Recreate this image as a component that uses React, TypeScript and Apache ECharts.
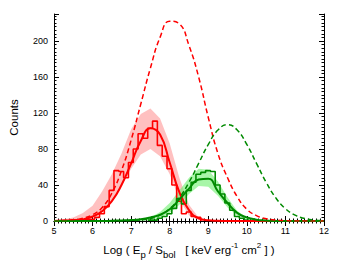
import React, { useEffect, useRef } from "react";
import * as echarts from "echarts";

// Red sample: histogram (left bin edges, counts), bin width 0.125
const redBinEdges = [5.43, 5.555, 5.68, 5.805, 5.93, 6.055, 6.18, 6.305, 6.43, 6.555, 6.68, 6.805, 6.93, 7.055, 7.18, 7.305, 7.43, 7.555, 7.68, 7.805, 7.93, 8.055, 8.18, 8.305, 8.43, 8.555, 8.68, 8.805];
const redCounts = [1, 1, 1, 2, 2, 4, 8, 16, 34, 56, 55, 48, 65, 80, 97, 92, 103, 111, 84, 72, 58, 40, 22, 8, 10, 5, 4, 0];

// Green sample histogram
const greenBinEdges = [7.43, 7.555, 7.68, 7.805, 7.93, 8.055, 8.18, 8.305, 8.43, 8.555, 8.68, 8.805, 8.93, 9.055, 9.18, 9.305, 9.43, 9.555, 9.68, 9.805, 9.93, 10.055];
const greenCounts = [1, 1, 3, 5, 8, 14, 25, 19, 34, 43, 52, 54, 56, 55, 40, 30, 20, 12, 5, 3, 1, 0];

// Fit curves (x, value)
const fitX = [5.0, 5.25, 5.5, 5.75, 6.0, 6.25, 6.5, 6.75, 7.0, 7.25, 7.5, 7.75, 8.0, 8.25, 8.5, 8.75, 9.0, 9.25, 9.5, 9.75, 10.0, 10.25, 10.5, 10.75, 11.0, 11.25, 11.5, 11.75, 12.0];
const redFit = [0, 0.5, 1, 2, 5, 11, 22, 40, 64, 89, 103, 96, 65, 32, 12, 3, 0.8, 0.2, 0, 0, 0, 0, 0, 0, 0, 0, 0, 0, 0];
const redBandUpper = [1, 2, 4, 9, 17, 33, 52, 75, 102, 119, 125, 114, 86, 48, 18, 4, 1, 0, 0, 0, 0, 0, 0, 0, 0, 0, 0, 0, 0];
const redBandLower = [0, 0.3, 1, 2.5, 6, 12, 23, 39, 58, 74, 80, 72, 52, 24, 6, 1, 0, 0, 0, 0, 0, 0, 0, 0, 0, 0, 0, 0, 0];
const redDashed = [0.2, 0.5, 1.2, 3, 7, 15, 31, 56, 90, 130, 170, 204, 222, 219, 195, 160, 115, 75, 48, 27, 13, 6, 2.5, 1, 0.3, 0, 0, 0, 0];

const greenFit = [0, 0, 0, 0, 0, 0, 0.3, 0.6, 1, 2, 4, 7, 13, 24, 36, 46, 47, 33, 20, 9, 4, 1.5, 0.5, 0, 0, 0, 0, 0, 0];
const greenBandUpper = [0, 0, 0, 0, 0, 0, 0.2, 0.4, 0.5, 1.5, 4, 10, 20, 34, 48, 58, 57, 44, 26, 11, 4, 1, 0, 0, 0, 0, 0, 0, 0];
const greenBandLower = [0, 0, 0, 0, 0, 0, 0, 0, 0, 0.3, 1.5, 4, 9, 18, 30, 39, 38, 28, 15, 6, 2, 0.5, 0, 0, 0, 0, 0, 0, 0];
const greenDashed = [0, 0, 0, 0, 0, 0, 0.1, 0.2, 0.4, 1, 2.8, 6.5, 13.7, 25.7, 43, 64, 85, 101, 107, 101, 85, 64, 43, 25.7, 13.7, 6.5, 2.8, 1, 0.4];

const RED = "#ff0000";
const GREEN = "#008a00";

function pairs(xs: number[], ys: number[]) {
  return xs.map((x, i) => [x, ys[i]]);
}

export default function App() {
  const ref = useRef<HTMLDivElement>(null);
  useEffect(() => {
    if (!ref.current) return;
    const chart = echarts.init(ref.current, null, { renderer: "svg" });
    const font = "'Liberation Sans', Arial, sans-serif";
    const axisCommon = {
      type: "value" as const,
      axisLine: { show: true, lineStyle: { color: "#000", width: 1 } },
      axisTick: { show: true, inside: true, length: 5, lineStyle: { color: "#000" } },
      minorTick: { show: true, splitNumber: 10, length: 2.5, lineStyle: { color: "#000" } },
      splitLine: { show: false },
    };
    const band = (name: string, xs: number[], up: number[], lo: number[], color: string) => ({
      name,
      type: "custom",
      data: xs.map((x, i) => [x, lo[i], up[i]]),
      encode: { x: 0, y: [1, 2] },
      silent: true,
      z: 1,
      clip: true,
      renderItem: (params: any, api: any) => {
        if (params.dataIndex !== 0) return null;
        const pts: number[][] = [];
        for (let i = 0; i < xs.length; i++) pts.push(api.coord([xs[i], up[i]]));
        for (let i = xs.length - 1; i >= 0; i--) pts.push(api.coord([xs[i], lo[i]]));
        return {
          type: "polygon",
          shape: { points: pts },
          style: { fill: color, stroke: "none" },
        };
      },
    });
    chart.setOption({
      animation: false,
      grid: { left: 51, right: 17, top: 14, bottom: 40 },
      xAxis: [
        {
          ...axisCommon,
          min: 5,
          max: 12,
          interval: 1,
          axisLabel: { color: "#000", fontSize: 9, fontFamily: font, margin: 5 },
          name: "{n|Log ( E}{sub|p}{n| / S}{sub|bol}{n|   [ keV erg}{sup|-1}{n| cm}{sup|2}{n| ] )}",
          nameLocation: "middle",
          nameGap: 20,
          nameTextStyle: {
            color: "#000",
            fontFamily: font,
            rich: {
              n: { fontSize: 11.5, fontFamily: font, color: "#000", lineHeight: 18, verticalAlign: "middle" },
              sub: { fontSize: 9.5, fontFamily: font, color: "#000", verticalAlign: "bottom", lineHeight: 18, padding: [6, 0, 0, 0] },
              sup: { fontSize: 8, fontFamily: font, color: "#000", verticalAlign: "top", lineHeight: 18, padding: [0, 0, 6, 0] },
            },
          },
        },
        {
          ...axisCommon,
          position: "top",
          min: 5,
          max: 12,
          interval: 1,
          axisLabel: { show: false },
        },
      ],
      yAxis: [
        {
          ...axisCommon,
          min: 0,
          max: 230,
          interval: 40,
          axisLabel: { color: "#000", fontSize: 9, fontFamily: font, margin: 6, showMaxLabel: false },
          name: "Counts",
          nameLocation: "middle",
          nameGap: 34,
          nameTextStyle: { color: "#000", fontSize: 11.5, fontFamily: font },
        },
        {
          ...axisCommon,
          position: "right",
          min: 0,
          max: 230,
          interval: 40,
          axisLabel: { show: false },
        },
      ],
      series: [
        band("redBand", fitX, redBandUpper, redBandLower, "rgba(255,150,150,0.6)"),
        band("greenBand", fitX, greenBandUpper, greenBandLower, "rgba(110,240,110,0.6)"),
        {
          name: "redHist",
          type: "line",
          step: "end",
          data: pairs(redBinEdges, redCounts),
          symbol: "none",
          lineStyle: { color: RED, width: 1.6 },
          z: 3,
        },
        {
          name: "greenHist",
          type: "line",
          step: "end",
          data: pairs(greenBinEdges, greenCounts),
          symbol: "none",
          lineStyle: { color: GREEN, width: 1.6 },
          z: 3,
        },
        {
          name: "redFit",
          type: "line",
          data: pairs(fitX, redFit),
          smooth: true,
          symbol: "none",
          lineStyle: { color: RED, width: 2 },
          z: 4,
        },
        {
          name: "greenFit",
          type: "line",
          data: pairs(fitX, greenFit),
          smooth: true,
          symbol: "none",
          lineStyle: { color: GREEN, width: 2 },
          z: 4,
        },
        {
          name: "redDashed",
          type: "line",
          data: pairs(fitX, redDashed),
          smooth: true,
          symbol: "none",
          lineStyle: { color: RED, width: 1.5, type: [5, 3] },
          z: 5,
        },
        {
          name: "greenDashed",
          type: "line",
          data: pairs(fitX, greenDashed),
          smooth: true,
          symbol: "none",
          lineStyle: { color: GREEN, width: 1.5, type: [5, 3] },
          z: 5,
        },
      ],
    });
    return () => chart.dispose();
  }, []);
  return <div ref={ref} style={{ width: 341, height: 264, position: "absolute", left: 0, top: 0 }} />;
}
